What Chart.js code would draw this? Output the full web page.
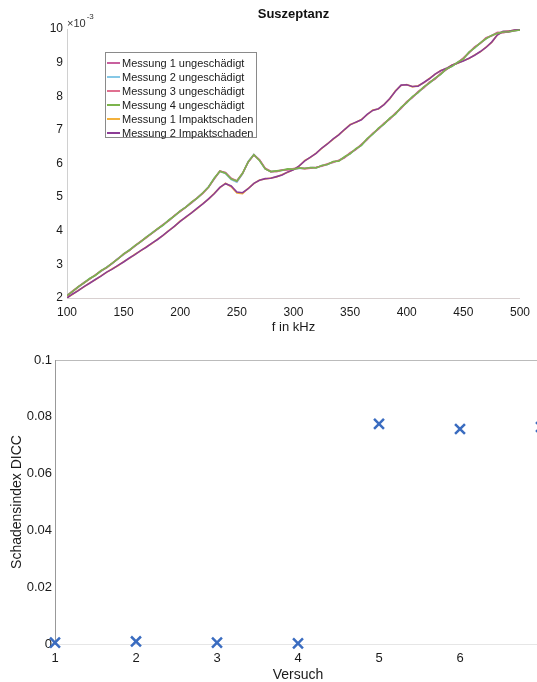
<!DOCTYPE html>
<html>
<head>
<meta charset="utf-8">
<script src="https://cdn.jsdelivr.net/npm/chart.js@4.4.1/dist/chart.umd.min.js"></script>
<style>
  html, body { margin: 0; padding: 0; background: #fff; overflow: hidden; }
  #page { position: relative; width: 537px; height: 682px; overflow: hidden; }
  #top { position: absolute; left: 0; top: 0; }
  #bottom { position: absolute; left: 0; top: 340px; }
  #legend {
    position: absolute; left: 105px; top: 52px; width: 152px; height: 86px;
    box-sizing: border-box; border: 1px solid #8a8a8a; background: #fff;
    padding-top: 3px; font: 11px "Liberation Sans", Arial, sans-serif; color: #1a1a1a;
  }
  #legend .row { height: 14px; display: flex; align-items: center; white-space: nowrap; }
  #legend .line { flex: none; width: 13px; height: 2px; margin-left: 1px; margin-right: 2px; }
</style>
</head>
<body>
<div id="page">
  <canvas id="top" width="537" height="340"></canvas>
  <canvas id="bottom" width="560" height="342"></canvas>
  <div id="legend"></div>
</div>
<script>
// Frequenz in kHz
const freqs = [
  100, 105, 110, 115, 120, 125, 130, 135, 140, 145,
  150, 155, 160, 165, 170, 175, 180, 185, 190, 195,
  200, 205, 210, 215, 220, 225, 230, 235, 240, 245,
  250, 255, 260, 265, 270, 275, 280, 285, 290, 295,
  300, 305, 310, 315, 320, 325, 330, 335, 340, 345,
  350, 355, 360, 365, 370, 375, 380, 385, 390, 395,
  400, 405, 410, 415, 420, 425, 430, 435, 440, 445,
  450, 455, 460, 465, 470, 475, 480, 485, 490, 495,
  500
];

// Suszeptanz x 10^-3
const messung1Ungeschaedigt = [
  2.06, 2.19, 2.33, 2.46, 2.56, 2.68, 2.81, 2.90, 3.03, 3.16,
  3.31, 3.42, 3.54, 3.68, 3.81, 3.92, 4.05, 4.19, 4.30, 4.45,
  4.59, 4.70, 4.83, 4.98, 5.13, 5.30, 5.54, 5.77, 5.73, 5.55,
  5.47, 5.70, 6.04, 6.26, 6.11, 5.85, 5.75, 5.77, 5.81, 5.82,
  5.83, 5.86, 5.86, 5.87, 5.89, 5.92, 5.98, 6.05, 6.08, 6.17,
  6.31, 6.41, 6.56, 6.71, 6.89, 7.02, 7.19, 7.32, 7.49, 7.64,
  7.83, 7.96, 8.13, 8.25, 8.41, 8.51, 8.67, 8.79, 8.91, 8.99,
  9.13, 9.29, 9.46, 9.57, 9.73, 9.80, 9.89, 9.90, 9.91, 9.95,
  9.97
];
const messung2Ungeschaedigt = [
  2.08, 2.20, 2.32, 2.45, 2.58, 2.68, 2.79, 2.92, 3.03, 3.18,
  3.29, 3.43, 3.55, 3.67, 3.80, 3.94, 4.05, 4.17, 4.32, 4.44,
  4.58, 4.71, 4.84, 4.97, 5.12, 5.31, 5.56, 5.76, 5.70, 5.52,
  5.44, 5.69, 6.06, 6.27, 6.09, 5.84, 5.76, 5.78, 5.79, 5.83,
  5.84, 5.85, 5.85, 5.88, 5.87, 5.94, 5.97, 6.04, 6.09, 6.19,
  6.29, 6.43, 6.54, 6.73, 6.87, 7.04, 7.17, 7.34, 7.47, 7.66,
  7.81, 7.98, 8.11, 8.27, 8.39, 8.53, 8.65, 8.81, 8.89, 9.01,
  9.11, 9.31, 9.44, 9.59, 9.71, 9.81, 9.87, 9.91, 9.92, 9.94,
  9.98
];
const messung3Ungeschaedigt = [
  2.07, 2.21, 2.34, 2.44, 2.57, 2.69, 2.80, 2.91, 3.04, 3.17,
  3.30, 3.41, 3.56, 3.68, 3.79, 3.93, 4.06, 4.18, 4.31, 4.46,
  4.57, 4.70, 4.85, 4.98, 5.11, 5.29, 5.55, 5.78, 5.72, 5.56,
  5.49, 5.71, 6.05, 6.25, 6.10, 5.86, 5.77, 5.76, 5.80, 5.81,
  5.85, 5.87, 5.84, 5.86, 5.88, 5.93, 5.99, 6.03, 6.10, 6.18,
  6.32, 6.42, 6.57, 6.72, 6.90, 7.03, 7.20, 7.33, 7.50, 7.65,
  7.84, 7.97, 8.14, 8.26, 8.42, 8.52, 8.68, 8.80, 8.92, 9.00,
  9.14, 9.30, 9.47, 9.58, 9.74, 9.80, 9.90, 9.89, 9.92, 9.96,
  9.99
];
const messung4Ungeschaedigt = [
  2.07, 2.20, 2.34, 2.45, 2.58, 2.67, 2.81, 2.91, 3.04, 3.16,
  3.31, 3.42, 3.56, 3.67, 3.81, 3.93, 4.06, 4.17, 4.32, 4.44,
  4.59, 4.70, 4.85, 4.97, 5.13, 5.30, 5.56, 5.77, 5.71, 5.54,
  5.48, 5.71, 6.05, 6.26, 6.09, 5.84, 5.76, 5.78, 5.80, 5.84,
  5.83, 5.87, 5.85, 5.88, 5.87, 5.94, 5.97, 6.06, 6.07, 6.20,
  6.29, 6.44, 6.54, 6.74, 6.87, 7.05, 7.17, 7.35, 7.47, 7.67,
  7.81, 7.99, 8.11, 8.28, 8.39, 8.54, 8.65, 8.81, 8.89, 9.01,
  9.11, 9.31, 9.44, 9.59, 9.71, 9.81, 9.87, 9.91, 9.92, 9.95,
  9.97
];
const messung1Impakt = [
  2.01, 2.11, 2.23, 2.33, 2.45, 2.54, 2.66, 2.76, 2.87, 2.96,
  3.08, 3.18, 3.30, 3.40, 3.52, 3.62, 3.75, 3.86, 4.01, 4.13,
  4.29, 4.40, 4.54, 4.66, 4.81, 4.94, 5.11, 5.28, 5.41, 5.31,
  5.12, 5.10, 5.26, 5.40, 5.51, 5.54, 5.57, 5.60, 5.67, 5.74,
  5.82, 5.92, 6.09, 6.18, 6.31, 6.45, 6.59, 6.72, 6.86, 7.00,
  7.16, 7.22, 7.31, 7.45, 7.59, 7.62, 7.76, 7.92, 8.16, 8.32,
  8.35, 8.28, 8.31, 8.40, 8.53, 8.65, 8.77, 8.82, 8.93, 8.98,
  9.06, 9.12, 9.23, 9.32, 9.46, 9.60, 9.83, 9.92, 9.94, 9.96,
  9.99
];
const messung2Impakt = [
  2.00, 2.12, 2.22, 2.34, 2.44, 2.55, 2.65, 2.77, 2.86, 2.97,
  3.07, 3.19, 3.29, 3.41, 3.51, 3.63, 3.74, 3.87, 4.00, 4.14,
  4.28, 4.41, 4.53, 4.67, 4.80, 4.95, 5.10, 5.29, 5.40, 5.33,
  5.15, 5.13, 5.25, 5.41, 5.50, 5.55, 5.56, 5.61, 5.66, 5.75,
  5.81, 5.93, 6.08, 6.19, 6.30, 6.46, 6.58, 6.73, 6.85, 7.01,
  7.15, 7.23, 7.30, 7.46, 7.58, 7.63, 7.75, 7.93, 8.15, 8.33,
  8.34, 8.29, 8.30, 8.41, 8.52, 8.66, 8.76, 8.83, 8.92, 8.99,
  9.05, 9.13, 9.22, 9.33, 9.45, 9.61, 9.82, 9.93, 9.93, 9.97,
  9.98
];

const serien = [messung1Ungeschaedigt, messung2Ungeschaedigt, messung3Ungeschaedigt,
  messung4Ungeschaedigt, messung1Impakt, messung2Impakt];
const serienNamen = ["Messung 1 ungeschädigt", "Messung 2 ungeschädigt", "Messung 3 ungeschädigt",
  "Messung 4 ungeschädigt", "Messung 1 Impaktschaden", "Messung 2 Impaktschaden"];
const serienFarben = ["#c8609e", "#86c8e6", "#e07090", "#7cb44c", "#f3b13c", "#8c3d96"];
// lower order = drawn on top
const serienOrder = [2, 4, 3, 0, 5, 1];

const topXTicks = [100, 150, 200, 250, 300, 350, 400, 450, 500];
const topYTicks = [2, 3, 4, 5, 6, 7, 8, 9, 10];

// Schadensindex pro Versuch
const versuche = [1, 2, 3, 4, 5, 6, 7];
const dicc = [0.0005, 0.0009, 0.0005, 0.0002, 0.0775, 0.0757, 0.0764];
const botXTicks = [1, 2, 3, 4, 5, 6, 7];
const botYTicks = [0, 0.02, 0.04, 0.06, 0.08, 0.1];

Chart.defaults.font.family = '"Liberation Sans", Arial, sans-serif';
Chart.defaults.color = "#1a1a1a";

// legend box (html)
const legend = document.getElementById("legend");
serienNamen.forEach((name, i) => {
  const row = document.createElement("div");
  row.className = "row";
  const line = document.createElement("div");
  line.className = "line";
  line.style.background = serienFarben[i];
  const txt = document.createElement("span");
  txt.textContent = name;
  row.appendChild(line);
  row.appendChild(txt);
  legend.appendChild(row);
});

// "x10^-3" above the y axis
const exponentLabel = {
  id: "exponentLabel",
  afterDraw(chart) {
    const ctx = chart.ctx;
    const left = chart.chartArea.left;
    ctx.save();
    ctx.fillStyle = "#333";
    ctx.textBaseline = "middle";
    ctx.font = '11px "Liberation Sans", Arial, sans-serif';
    ctx.fillText("×10", left, 24);
    const w = ctx.measureText("×10").width;
    ctx.font = '8px "Liberation Sans", Arial, sans-serif';
    ctx.fillText("-3", left + w + 1, 17);
    ctx.restore();
  },
};

const topChart = new Chart(document.getElementById("top"), {
  type: "line",
  data: {
    datasets: serien.map((werte, i) => ({
      label: serienNamen[i],
      data: freqs.map((f, k) => ({ x: f, y: werte[k] })),
      borderColor: serienFarben[i],
      borderWidth: 1.6,
      pointRadius: 0,
      tension: 0,
      order: serienOrder[i],
    })),
  },
  options: {
    responsive: false,
    animation: false,
    layout: { padding: { left: 0, right: 13, top: 0, bottom: 5 } },
    plugins: {
      legend: { display: false },
      tooltip: { enabled: false },
      title: {
        display: true,
        text: "Suszeptanz",
        fullSize: false,
        color: "#111",
        font: { size: 13, weight: "bold" },
        padding: { top: 7, bottom: 6.4 },
      },
    },
    scales: {
      x: {
        type: "linear",
        min: 100,
        max: 500,
        afterBuildTicks: (s) => { s.ticks = topXTicks.map((v) => ({ value: v })); },
        afterFit: (s) => { s.height = 37; },
        grid: { display: false, drawTicks: false },
        border: { display: true, color: "#d8d0d0" },
        ticks: { color: "#1a1a1a", font: { size: 12 }, padding: 7, maxRotation: 0, autoSkip: false },
        title: { display: true, text: "f in kHz", color: "#1a1a1a", font: { size: 13 }, padding: 0 },
      },
      y: {
        min: 2,
        max: 10,
        afterBuildTicks: (s) => { s.ticks = topYTicks.map((v) => ({ value: v })); },
        afterFit: (s) => { s.width = 67; },
        grid: { display: false, drawTicks: false },
        border: { display: true, color: "#d0d0d0" },
        ticks: { color: "#1a1a1a", font: { size: 12 }, padding: 4 },
      },
    },
  },
  plugins: [exponentLabel],
});

const bottomChart = new Chart(document.getElementById("bottom"), {
  type: "scatter",
  data: {
    datasets: [
      {
        data: versuche.map((v, i) => ({ x: v, y: dicc[i] })),
        pointStyle: "crossRot",
        pointRadius: 7,
        pointBorderWidth: 2.5,
        pointBorderColor: "#3a6cc0",
        pointBackgroundColor: "#3a6cc0",
        clip: false,
      },
    ],
  },
  options: {
    responsive: false,
    animation: false,
    layout: { padding: { left: 0, right: 19, top: 20, bottom: 0 } },
    plugins: { legend: { display: false }, tooltip: { enabled: false } },
    scales: {
      x: {
        type: "linear",
        min: 1,
        max: 7,
        afterBuildTicks: (s) => { s.ticks = botXTicks.map((v) => ({ value: v })); },
        afterFit: (s) => { s.height = 38; },
        grid: { display: false, drawTicks: false },
        border: { display: true, color: "#e6e6e6" },
        ticks: { color: "#1a1a1a", font: { size: 13 }, padding: 7, maxRotation: 0, autoSkip: false },
        title: { display: true, text: "Versuch", color: "#1a1a1a", font: { size: 14, lineHeight: 1 }, padding: 0 },
      },
      x2: {
        type: "linear",
        position: "top",
        min: 1,
        max: 7,
        afterFit: (s) => { s.height = 0; },
        grid: { display: false, drawTicks: false },
        border: { display: true, color: "#bbbbbb" },
        ticks: { display: false },
      },
      y: {
        min: 0,
        max: 0.1,
        afterBuildTicks: (s) => { s.ticks = botYTicks.map((v) => ({ value: v })); },
        afterFit: (s) => { s.width = 55; },
        grid: { display: false, drawTicks: false },
        border: { display: true, color: "#999999" },
        ticks: { color: "#1a1a1a", font: { size: 13 }, padding: 3, callback: (v) => String(+v.toFixed(2)) },
        title: { display: true, text: "Schadensindex DICC", color: "#1a1a1a", font: { size: 14 }, padding: { top: 8.6, bottom: 0 } },
      },
    },
  },
});
</script>
</body>
</html>
